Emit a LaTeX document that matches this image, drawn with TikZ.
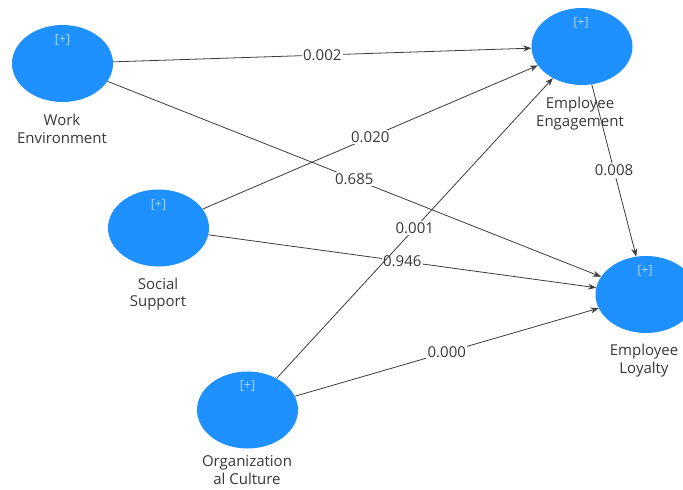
\documentclass[tikz,border=0pt]{standalone}
\usepackage{fontspec}
\setmainfont{Open Sans}
\usetikzlibrary{shapes.geometric,arrows.meta}
\definecolor{latent}{RGB}{30,144,255}
\definecolor{plus}{RGB}{175,215,255}
\definecolor{txt}{RGB}{60,55,55}
\definecolor{edge}{RGB}{60,60,60}
\tikzset{
  lv/.style={ellipse,fill=latent,draw=none,minimum width=101pt,minimum height=77pt,inner sep=0pt},
  plustext/.style={text=plus,font=\fontsize{12.5}{14}\selectfont,inner sep=0pt},
  lvname/.style={text=txt,font=\fontsize{15}{17.5}\selectfont,align=center,inner sep=0pt},
  arr/.style={draw=edge,line width=0.8pt,-{Stealth[length=8pt,width=6pt]}},
  coef/.style={fill=white,text=txt,font=\fontsize{15}{16}\selectfont,inner sep=1.5pt,midway}
}
\begin{document}
\begin{tikzpicture}[x=1pt,y=-1pt]
\useasboundingbox (0,0) rectangle (683,490);
\clip (0,0) rectangle (683,490);
\fill[white] (0,0) rectangle (683,490);
% latent variables
\node[lv] (we) at (62.5,63.5) {};
\node[lv] (ee) at (582,46.5) {};
\node[lv] (ss) at (158.5,228) {};
\node[lv] (el) at (646,294.5) {};
\node[lv] (oc) at (247.5,410) {};
% [+] markers
\node[plustext] (wep) at (62.5,40) {[+]};
\node[plustext] (eep) at (581,23) {[+]};
\node[plustext] (ssp) at (158.5,205) {[+]};
\node[plustext] (elp) at (645,271) {[+]};
\node[plustext] (ocp) at (247.5,386.5) {[+]};
% names
\node[lvname] (wel) at (62,129) {Work\\Environment};
\node[lvname] (eel) at (580,113.5) {Employee\\Engagement};
\node[lvname] (ssl) at (158,294) {Social\\Support};
\node[lvname] (ell) at (644,360.5) {Employee\\Loyalty};
\node[lvname] (ocl) at (247,470) {Organization\\al Culture};
% paths
\draw[arr] (we) -- node[coef] (c1) {0.002} (ee);
\draw[arr] (we) -- node[coef] (c2) {0.685} (el);
\draw[arr] (ss) -- node[coef] (c3) {0.020} (ee);
\draw[arr] (ss) -- node[coef] (c4) {0.946} (el);
\draw[arr] (oc) -- node[coef] (c5) {0.001} (ee);
\draw[arr] (oc) -- node[coef] (c6) {0.000} (el);
\draw[arr] (ee) -- node[coef] (c7) {0.008} (el);
\end{tikzpicture}
\end{document}
